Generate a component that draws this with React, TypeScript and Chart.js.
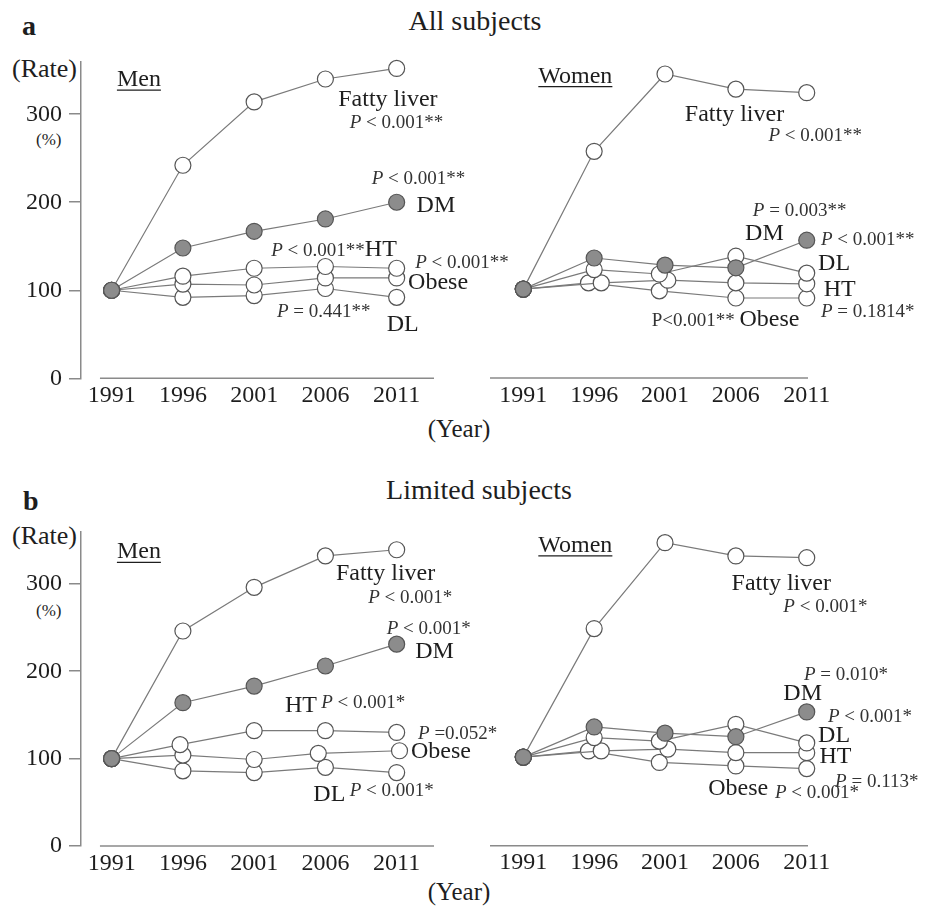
import React, { useEffect, useRef } from "react";
import { Chart, registerables } from "chart.js";

Chart.register(...registerables);

const FONT = "'Liberation Serif', 'Times New Roman', serif";
const YEARS = [1991, 1996, 2001, 2006, 2011];
const Y_TICKS = [0, 100, 200, 300];

// ---------- a: all subjects, men ----------
const aMenX = [1991, 1996, 2001, 2006, 2011];
const aMenFatty = [100, 242, 314, 340, 352];
const aMenDM = [100, 148, 167, 181, 200];
const aMenHT = [100, 116, 125, 127, 125];
const aMenObese = [100, 107, 106, 114, 114];
const aMenDL = [100, 92, 94, 102, 92];

// ---------- a: all subjects, women ----------
const aWomX = [1991, 1996, 2001, 2006, 2011];
const aWomHTX = [1991, 1996.5, 2001.2, 2006, 2011];
const aWomObeseX = [1991, 1995.6, 2000.6, 2006, 2011];
const aWomDLX = [1991, 1996, 2000.6, 2006, 2011];
const aWomFatty = [100, 255, 342, 325, 321];
const aWomDM = [100, 135, 127, 124, 155];
const aWomDL = [100, 122, 117, 137, 118];
const aWomHT = [100, 107, 110, 107, 106];
const aWomObese = [100, 107, 98, 90, 90];

// ---------- b: limited subjects, men ----------
const bMenX = [1991, 1996, 2001, 2006, 2011];
const bMenHTX = [1991, 1995.8, 2001, 2006, 2011];
const bMenObeseX = [1991, 1996, 2001, 2005.5, 2011.2];
const bMenFatty = [100, 246, 296, 332, 339];
const bMenDM = [100, 164, 183, 206, 231];
const bMenHT = [100, 116, 132, 132, 130];
const bMenObese = [100, 104, 99, 106, 109];
const bMenDL = [100, 86, 84, 90, 84];

// ---------- b: limited subjects, women ----------
const bWomX = [1991, 1996, 2001, 2006, 2011];
const bWomHTX = [1991, 1996.5, 2001.2, 2006, 2011];
const bWomObeseX = [1991, 1995.6, 2000.6, 2006, 2011];
const bWomDLX = [1991, 1996, 2000.6, 2006, 2011];
const bWomFatty = [100, 245, 342, 327, 325];
const bWomDM = [100, 134, 127, 123, 151];
const bWomDL = [100, 122, 118, 137, 116];
const bWomHT = [100, 107, 109, 105, 105];
const bWomObese = [100, 107, 94, 90, 87];

// ---------- text annotations ----------
type Part = { t: string; it?: boolean; sz: number; dy?: number };
type Note = { x: number; y: number; parts: Part[]; ul?: boolean };
const NS = 24;
const PS = 19;
const nm = (t: string): Part[] => [{ t, sz: NS }];
const pv = (rest: string): Part[] => [
  { t: "P", it: true, sz: PS },
  { t: rest, sz: PS },
];

const aMenNotes: Note[] = [
  { x: 1991.37, y: 331.8, parts: nm("Men"), ul: true },
  { x: 2006.9, y: 309, parts: nm("Fatty liver") },
  { x: 2007.7, y: 284.6, parts: pv(" < 0.001**") },
  { x: 2009.25, y: 220.9, parts: pv(" < 0.001**") },
  { x: 2012.4, y: 189.1, parts: nm("DM") },
  { x: 2002.2, y: 138.5, parts: [...pv(" < 0.001**"), { t: "HT", sz: NS }] },
  { x: 2012.3, y: 125.4, parts: pv(" < 0.001**") },
  { x: 2011.8, y: 101.1, parts: nm("Obese") },
  { x: 2002.6, y: 70, parts: pv(" = 0.441**") },
  { x: 2010.3, y: 54.3, parts: nm("DL") },
];

const aWomNotes: Note[] = [
  { x: 1992.06, y: 332.2, parts: nm("Women"), ul: true },
  { x: 2002.4, y: 289.3, parts: nm("Fatty liver") },
  { x: 2008.3, y: 266.4, parts: pv(" < 0.001**") },
  { x: 2007.2, y: 181.9, parts: pv(" = 0.003**") },
  { x: 2006.65, y: 155.6, parts: nm("DM") },
  { x: 2012.0, y: 150, parts: pv(" < 0.001**") },
  { x: 2011.8, y: 121.8, parts: nm("DL") },
  { x: 2012.2, y: 91.7, parts: nm("HT") },
  { x: 2012.0, y: 69.1, parts: pv(" = 0.1814*") },
  { x: 2000.06, y: 58.6, parts: [{ t: "P<0.001** ", sz: PS }, { t: "Obese", sz: NS }] },
];

const bMenNotes: Note[] = [
  { x: 1991.37, y: 329.2, parts: nm("Men"), ul: true },
  { x: 2006.74, y: 304.8, parts: nm("Fatty liver") },
  { x: 2009.0, y: 278.6, parts: pv(" < 0.001*") },
  { x: 2010.3, y: 243, parts: pv(" < 0.001*") },
  { x: 2012.3, y: 214.8, parts: nm("DM") },
  { x: 2003.16, y: 153, parts: nm("HT") },
  { x: 2005.7, y: 157.5, parts: pv(" < 0.001*") },
  { x: 2012.5, y: 123, parts: pv(" =0.052*") },
  { x: 2012.0, y: 100.4, parts: nm("Obese") },
  { x: 2005.15, y: 51.7, parts: nm("DL") },
  { x: 2007.7, y: 57.4, parts: pv(" < 0.001*") },
];

const bWomNotes: Note[] = [
  { x: 1992.06, y: 331.5, parts: nm("Women"), ul: true },
  { x: 2005.7, y: 288.3, parts: nm("Fatty liver") },
  { x: 2009.35, y: 263.8, parts: pv(" < 0.001*") },
  { x: 2010.8, y: 186.8, parts: pv(" = 0.010*") },
  { x: 2009.35, y: 164.3, parts: nm("DM") },
  { x: 2012.5, y: 139.8, parts: pv(" < 0.001*") },
  { x: 2011.8, y: 117.3, parts: nm("DL") },
  { x: 2011.9, y: 92.9, parts: nm("HT") },
  { x: 2013.0, y: 66.5, parts: pv(" = 0.113*") },
  { x: 2004.05, y: 57.2, parts: nm("Obese") },
  { x: 2008.76, y: 53.4, parts: pv(" < 0.001*") },
];

type Series = { name: string; x: number[]; y: number[]; filled?: boolean };

const PANELS = [
  {
    key: "aMen", left: 0, top: 40, w: 520, h: 400,
    padding: { top: 18, right: 86, left: 0, bottom: 0 },
    showY: true, yW: 81, xH: 61.7, xMin: 1988.85, xMax: 2013.62, lineFrom: 1990.18,
    series: [
      { name: "Fatty liver", x: aMenX, y: aMenFatty },
      { name: "HT", x: aMenX, y: aMenHT },
      { name: "Obese", x: aMenX, y: aMenObese },
      { name: "DL", x: aMenX, y: aMenDL },
      { name: "DM", x: aMenX, y: aMenDM, filled: true },
    ] as Series[],
    notes: aMenNotes,
  },
  {
    key: "aWom", left: 470, top: 40, w: 463, h: 400,
    padding: { top: 18, right: 125, left: 20, bottom: 0 },
    showY: false, yW: 0, xH: 62, xMin: 1988.65, xMax: 2011.09, lineFrom: null,
    series: [
      { name: "Fatty liver", x: aWomX, y: aWomFatty },
      { name: "DL", x: aWomDLX, y: aWomDL },
      { name: "HT", x: aWomHTX, y: aWomHT },
      { name: "Obese", x: aWomObeseX, y: aWomObese },
      { name: "DM", x: aWomX, y: aWomDM, filled: true },
    ] as Series[],
    notes: aWomNotes,
  },
  {
    key: "bMen", left: 0, top: 510, w: 520, h: 400,
    padding: { top: 16.7, right: 86, left: 0, bottom: 0 },
    showY: true, yW: 81, xH: 64, xMin: 1988.85, xMax: 2013.62, lineFrom: 1990.18,
    series: [
      { name: "Fatty liver", x: bMenX, y: bMenFatty },
      { name: "HT", x: bMenHTX, y: bMenHT },
      { name: "Obese", x: bMenObeseX, y: bMenObese },
      { name: "DL", x: bMenX, y: bMenDL },
      { name: "DM", x: bMenX, y: bMenDM, filled: true },
    ] as Series[],
    notes: bMenNotes,
  },
  {
    key: "bWom", left: 470, top: 510, w: 463, h: 400,
    padding: { top: 16.7, right: 125, left: 20, bottom: 0 },
    showY: false, yW: 0, xH: 64.3, xMin: 1988.65, xMax: 2011.09, lineFrom: null,
    series: [
      { name: "Fatty liver", x: bWomX, y: bWomFatty },
      { name: "DL", x: bWomDLX, y: bWomDL },
      { name: "HT", x: bWomHTX, y: bWomHT },
      { name: "Obese", x: bWomObeseX, y: bWomObese },
      { name: "DM", x: bWomX, y: bWomDM, filled: true },
    ] as Series[],
    notes: bWomNotes,
  },
];

const AXIS = "#8a8a8a";
const LINE = "#7a7a7a";
const FILL = "#8c8c8c";
const TEXT = "#1e1e1e";
const PTEXT = "#333";

function makeChart(canvas: HTMLCanvasElement, p: (typeof PANELS)[number]) {
  const overlay = {
    id: "overlay",
    beforeDatasetsDraw(chart: any) {
      const { ctx, chartArea } = chart;
      const xs = chart.scales.x;
      const x0 = p.lineFrom == null ? chartArea.left : xs.getPixelForValue(p.lineFrom);
      ctx.save();
      ctx.strokeStyle = AXIS;
      ctx.lineWidth = 1.5;
      ctx.beginPath();
      ctx.moveTo(x0, chartArea.bottom);
      ctx.lineTo(chartArea.right, chartArea.bottom);
      ctx.stroke();
      ctx.restore();
    },
    afterDatasetsDraw(chart: any) {
      const { ctx } = chart;
      const xs = chart.scales.x;
      const ys = chart.scales.y;
      ctx.save();
      ctx.textBaseline = "alphabetic";
      ctx.textAlign = "left";
      for (const n of p.notes) {
        let px = xs.getPixelForValue(n.x);
        const py = ys.getPixelForValue(n.y);
        const startX = px;
        for (const part of n.parts) {
          ctx.font = `${part.it ? "italic " : ""}${part.sz}px ${FONT}`;
          ctx.fillStyle = part.sz === PS ? PTEXT : TEXT;
          ctx.fillText(part.t, px, py + (part.dy || 0));
          px += ctx.measureText(part.t).width;
        }
        if (n.ul) {
          ctx.strokeStyle = TEXT;
          ctx.lineWidth = 1.3;
          ctx.beginPath();
          ctx.moveTo(startX, py + 4);
          ctx.lineTo(px, py + 4);
          ctx.stroke();
        }
      }
      ctx.restore();
    },
  };

  const datasets = p.series.map((s, i) => ({
    label: s.name,
    data: s.y.map((v, j) => ({ x: s.x[j], y: v })),
    borderColor: LINE,
    borderWidth: 1.2,
    pointRadius: 8,
    pointHoverRadius: 8,
    pointBorderWidth: 1.2,
    pointBorderColor: "#555",
    pointBackgroundColor: s.filled ? FILL : "#ffffff",
    backgroundColor: s.filled ? FILL : "#ffffff",
    fill: false,
    tension: 0,
    clip: false as any,
    order: s.filled ? 0 : i + 1,
  }));

  return new Chart(canvas, {
    type: "line",
    data: { datasets },
    options: {
      responsive: false,
      animation: false,
      devicePixelRatio: 1,
      events: [],
      layout: { padding: p.padding },
      plugins: { legend: { display: false }, tooltip: { enabled: false } },
      scales: {
        x: {
          type: "linear",
          min: p.xMin,
          max: p.xMax,
          afterBuildTicks: (sc: any) => {
            sc.ticks = YEARS.map((v) => ({ value: v }));
          },
          afterFit: (sc: any) => {
            sc.height = p.xH;
          },
          grid: { display: false, drawTicks: false },
          border: { display: false },
          ticks: {
            font: { family: FONT, size: 24 },
            color: TEXT,
            padding: 3,
            maxRotation: 0,
            autoSkip: false,
            callback: (v: any) => String(v),
          },
        },
        y: {
          type: "linear",
          display: p.showY,
          min: 0,
          max: 360,
          afterBuildTicks: (sc: any) => {
            sc.ticks = Y_TICKS.map((v) => ({ value: v }));
          },
          afterFit: (sc: any) => {
            sc.width = p.yW;
          },
          grid: {
            drawOnChartArea: false,
            drawTicks: true,
            tickLength: 12,
            color: AXIS,
            lineWidth: 1.5,
          },
          border: { color: AXIS, width: 1.5 },
          ticks: {
            font: { family: FONT, size: 24 },
            color: TEXT,
            padding: 7,
            callback: (v: any) => String(v),
          },
        },
      },
    },
    plugins: [overlay],
  } as any);
}

function Panel({ p }: { p: (typeof PANELS)[number] }) {
  const ref = useRef<HTMLCanvasElement>(null);
  useEffect(() => {
    if (!ref.current) return;
    const c = makeChart(ref.current, p);
    return () => c.destroy();
  }, [p]);
  return (
    <canvas
      ref={ref}
      width={p.w}
      height={p.h}
      style={{ position: "absolute", left: p.left, top: p.top, width: p.w, height: p.h }}
    />
  );
}

function Txt({
  children, left, center, baseline, size, bold,
}: {
  children: React.ReactNode; left?: number; center?: number; baseline: number; size: number; bold?: boolean;
}) {
  const top = baseline - 0.8375 * size;
  const style: React.CSSProperties = {
    position: "absolute",
    top,
    fontFamily: FONT,
    fontSize: size,
    lineHeight: `${size}px`,
    fontWeight: bold ? 700 : 400,
    color: TEXT,
    whiteSpace: "nowrap",
  };
  if (center != null) {
    style.left = center;
    style.transform = "translateX(-50%)";
  } else {
    style.left = left;
  }
  return <div style={style}>{children}</div>;
}

export default function App() {
  return (
    <div
      style={{
        position: "absolute",
        left: 0,
        top: 0,
        width: 933,
        height: 910,
        background: "#ffffff",
        overflow: "hidden",
      }}
    >
      <Txt left={22} baseline={35} size={28} bold>a</Txt>
      <Txt center={475} baseline={30} size={28}>All subjects</Txt>
      <Txt left={12} baseline={78} size={26}>(Rate)</Txt>
      <Txt left={36} baseline={145} size={17}>(%)</Txt>
      <Txt center={459} baseline={437} size={25}>(Year)</Txt>

      <Txt left={23} baseline={510} size={28} bold>b</Txt>
      <Txt center={479} baseline={499} size={28}>Limited subjects</Txt>
      <Txt left={12} baseline={545} size={26}>(Rate)</Txt>
      <Txt left={36} baseline={616} size={17}>(%)</Txt>
      <Txt center={459} baseline={900} size={25}>(Year)</Txt>

      {PANELS.map((p) => (
        <Panel key={p.key} p={p} />
      ))}
    </div>
  );
}
